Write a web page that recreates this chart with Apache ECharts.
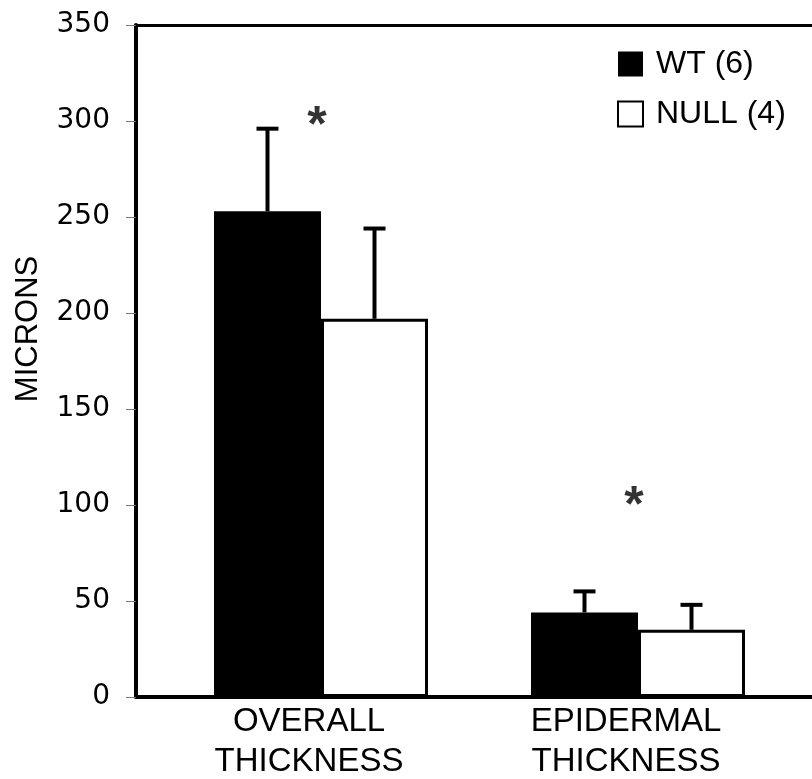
<!DOCTYPE html>
<html>
<head>
<meta charset="utf-8">
<script src="https://cdn.jsdelivr.net/npm/echarts@6/dist/echarts.min.js"></script>
<style>html,body{margin:0;padding:0;background:#fff}#c{width:812px;height:779px}</style>
</head>
<body>
<div id="c"></div>
<script>
const categories = ['OVERALL\nTHICKNESS', 'EPIDERMAL\nTHICKNESS'];
const wtMean = [253, 44];
const wtErr = [43, 11];
const nullMean = [197, 35];
const nullErr = [47, 13];
const starValues = [302, 104];
const yTicks = { min: 0, max: 350, interval: 50 };
const seriesNames = ['WT (6)', 'NULL (4)'];

const BAR_W = 107;
const chart = echarts.init(document.getElementById('c'));

function errorSeries(name, means, errs, offset) {
  return {
    type: 'custom',
    name: name + ' err',
    xAxisIndex: 2, yAxisIndex: 1,
    silent: true,
    z: 1,
    data: means.map((m, i) => [i, m, m + errs[i]]),
    renderItem: function (params, api) {
      const base = api.coord([api.value(0), api.value(1)]);
      const top = api.coord([api.value(0), api.value(2)]);
      const x = base[0] + offset;
      return {
        type: 'group',
        children: [
          { type: 'line', shape: { x1: x, y1: base[1], x2: x, y2: top[1] }, style: { stroke: '#000', lineWidth: 4 } },
          { type: 'line', shape: { x1: x - 11, y1: top[1], x2: x + 11, y2: top[1] }, style: { stroke: '#000', lineWidth: 4 } }
        ]
      };
    }
  };
}

const option = {
  backgroundColor: '#fff',
  animation: false,
  grid: [
    { left: 162.5, right: 15.5, top: 25, bottom: 82, containLabel: false, outerBoundsMode: 'none' },
    { left: 136, right: -10, top: 25, bottom: 82, containLabel: false, outerBoundsMode: 'none' }
  ],
  legend: {
    orient: 'vertical',
    left: 617, top: 48, padding: 0,
    itemWidth: 25, itemHeight: 25, itemGap: 18,
    data: [
      { name: seriesNames[0], icon: 'rect', itemStyle: { color: '#000', borderColor: '#000', borderWidth: 0 } },
      { name: seriesNames[1], icon: 'rect', itemStyle: { color: '#fff', borderColor: '#000', borderWidth: 2 } }
    ],
    textStyle: { fontFamily: 'Liberation Sans', fontSize: 32, color: '#000', padding: [0, 0, 0, 8] }
  },
  xAxis: [
    { gridIndex: 1, type: 'value', min: 0, max: 1, position: 'bottom',
      axisLine: { show: true, lineStyle: { color: '#000', width: 4 } },
      axisTick: { show: false }, axisLabel: { show: false }, splitLine: { show: false } },
    { gridIndex: 1, type: 'value', min: 0, max: 1, position: 'top',
      axisLine: { show: true, lineStyle: { color: '#000', width: 3 } },
      axisTick: { show: false }, axisLabel: { show: false }, splitLine: { show: false } },
    { gridIndex: 0, type: 'category', data: categories,
      axisLine: { show: false }, axisTick: { show: false },
      axisLabel: { margin: 5, fontFamily: 'Liberation Sans', fontSize: 33, color: '#000', lineHeight: 40, padding: [0, 24, 0, 0] } }
  ],
  yAxis: [
    { gridIndex: 1, type: 'value', min: yTicks.min, max: yTicks.max, interval: yTicks.interval,
      name: 'MICRONS', nameLocation: 'middle', nameGap: 92,
      nameTextStyle: { fontFamily: 'Liberation Sans', fontSize: 31, color: '#000', padding: [0, 0, 0, 64] },
      axisLine: { show: true, lineStyle: { color: '#000', width: 4 } },
      axisTick: { show: true, length: 10, lineStyle: { color: '#777', width: 1 } },
      axisLabel: { margin: 26, fontFamily: 'DejaVu Sans', fontSize: 28, color: '#000' },
      splitLine: { show: false } },
    { gridIndex: 0, type: 'value', min: yTicks.min, max: yTicks.max, show: false, splitLine: { show: false } }
  ],
  series: [
    { type: 'bar', name: seriesNames[0], xAxisIndex: 2, yAxisIndex: 1, data: wtMean,
      barWidth: BAR_W, barGap: '0%', z: 3,
      itemStyle: { color: '#000', borderColor: '#000', borderWidth: 0 } },
    { type: 'bar', name: seriesNames[1], xAxisIndex: 2, yAxisIndex: 1, data: nullMean,
      barWidth: BAR_W, barGap: '0%', z: 3,
      itemStyle: { color: '#fff', borderColor: '#000', borderWidth: 3 } },
    errorSeries(seriesNames[0], wtMean, wtErr, -BAR_W / 2),
    errorSeries(seriesNames[1], nullMean, nullErr, BAR_W / 2),
    { type: 'scatter', xAxisIndex: 2, yAxisIndex: 1, symbolSize: 0, silent: true,
      data: starValues.map((v, i) => [i, v]),
      label: { show: true, position: 'inside', formatter: '*', fontFamily: 'Liberation Sans', fontWeight: 'bold', fontSize: 50, color: '#000', offset: [-4, 10] } }
  ]
};
chart.setOption(option);
</script>
</body>
</html>
